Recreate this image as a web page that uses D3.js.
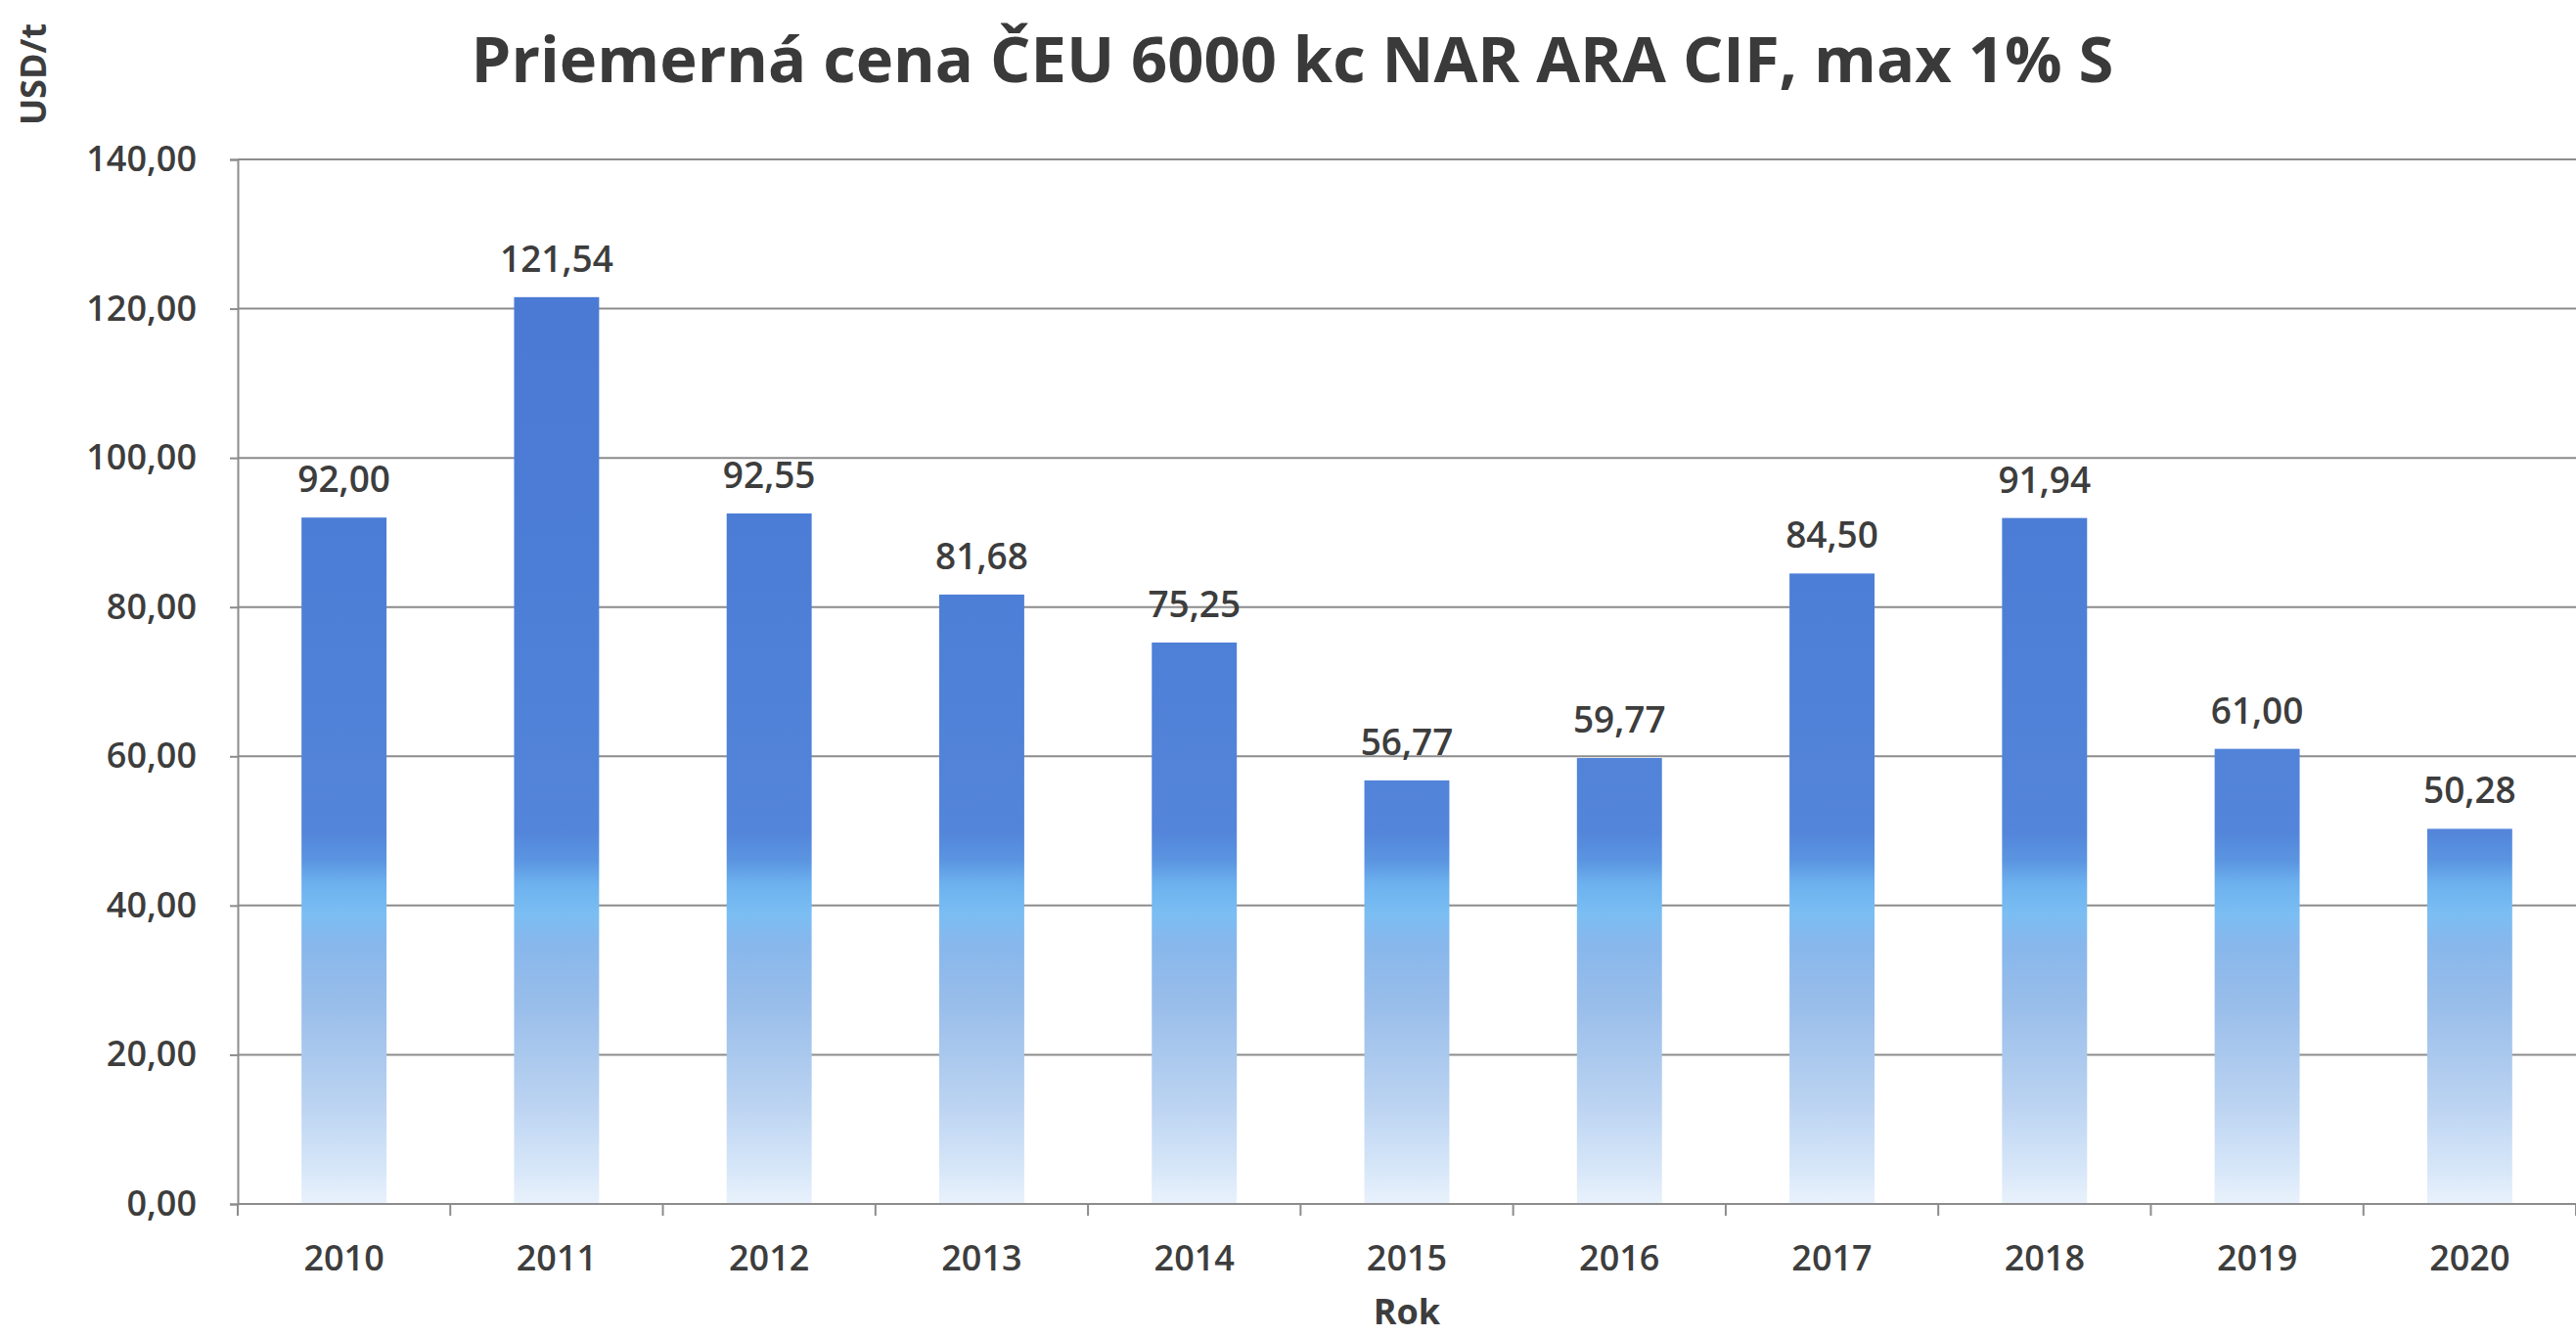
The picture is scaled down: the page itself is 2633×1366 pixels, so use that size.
<!DOCTYPE html>
<html>
<head>
<meta charset="utf-8">
<script src="https://cdn.jsdelivr.net/npm/d3@7"></script>
<style>
  html, body { margin: 0; padding: 0; background: #fff; }
  svg { display: block; }
</style>
</head>
<body>
<svg id="chart" width="2633" height="1366"></svg>
<script>
// ---- data ----
const years = ["2010","2011","2012","2013","2014","2015","2016","2017","2018","2019","2020"];
const prices = [92.00, 121.54, 92.55, 81.68, 75.25, 56.77, 59.77, 84.50, 91.94, 61.00, 50.28];
const yTicks = [0, 20, 40, 60, 80, 100, 120, 140];
const titleText = "Priemerná cena ČEU 6000 kc NAR ARA CIF, max 1% S";
const yAxisTitle = "USD/t";
const xAxisTitle = "Rok";

// ---- layout ----
const W = 2633, H = 1366;
const margin = { left: 243, right: 0, top: 163, bottom: H - 1231 };
const fontFam = "'Open Sans', 'Noto Sans', sans-serif";
const textColor = "#3d3d3d";

const svg = d3.select("#chart");

const x = d3.scaleBand().domain(years).range([margin.left, W - margin.right]).paddingInner(0.6).paddingOuter(0.3);
const y = d3.scaleLinear().domain([0, 140]).range([H - margin.bottom, margin.top]);
const fmt = v => d3.format(".2f")(v).replace(".", ",");

// gradient in user space so every bar shares the same band positions
const defs = svg.append("defs");
const grad = defs.append("linearGradient")
  .attr("id", "barGrad").attr("gradientUnits", "userSpaceOnUse")
  .attr("x1", 0).attr("x2", 0).attr("y1", y(140)).attr("y2", y(0));
const stops = [
  [140, "#4a78d3"], [90, "#4c7dd6"], [50, "#5385da"], [46, "#5b95e1"],
  [43, "#6cb0ee"], [39, "#7abef3"], [35, "#87b7ec"], [27, "#98bdea"],
  [14, "#b9d2f1"], [4, "#d9e8f9"], [0, "#e9f2fc"]
];
stops.forEach(([v, c]) => grad.append("stop").attr("offset", (140 - v) / 140).attr("stop-color", c));

// gridlines
svg.append("g").selectAll("line").data(yTicks.filter(d => d > 0)).join("line")
  .attr("x1", margin.left).attr("x2", W).attr("y1", d => y(d)).attr("y2", d => y(d))
  .attr("stroke", "#8c8c8c").attr("stroke-width", 2);

// bars
svg.append("g").selectAll("rect").data(prices).join("rect")
  .attr("x", (d, i) => x(years[i]))
  .attr("width", x.bandwidth())
  .attr("y", d => y(d))
  .attr("height", d => y(0) - y(d))
  .attr("fill", "url(#barGrad)");

// y axis
const yAxis = svg.append("g").attr("transform", `translate(${margin.left},0)`)
  .call(d3.axisLeft(y).tickValues(yTicks).tickFormat(fmt).tickSize(8).tickPadding(34));
yAxis.select(".domain").attr("stroke", "#8c8c8c").attr("stroke-width", 2);
yAxis.selectAll(".tick line").attr("stroke", "#8c8c8c").attr("stroke-width", 2);
yAxis.selectAll("text").attr("font-family", fontFam).attr("font-size", 36).attr("font-weight", 600).attr("fill", textColor);

// x axis (ticks at category boundaries)
const boundaries = d3.range(years.length + 1).map(i => margin.left + i * x.step());
const xg = svg.append("g");
xg.append("line").attr("x1", margin.left).attr("x2", W).attr("y1", y(0)).attr("y2", y(0))
  .attr("stroke", "#8c8c8c").attr("stroke-width", 2);
xg.selectAll("line.tk").data(boundaries).join("line").attr("class", "tk")
  .attr("x1", d => d).attr("x2", d => d).attr("y1", y(0)).attr("y2", y(0) + 12)
  .attr("stroke", "#8c8c8c").attr("stroke-width", 2);
xg.selectAll("text").data(years).join("text")
  .attr("x", d => x(d) + x.bandwidth() / 2).attr("y", y(0) + 68)
  .attr("text-anchor", "middle")
  .attr("font-family", fontFam).attr("font-size", 36).attr("font-weight", 600).attr("fill", textColor)
  .text(d => d);

// data labels
svg.append("g").selectAll("text").data(prices).join("text")
  .attr("x", (d, i) => x(years[i]) + x.bandwidth() / 2)
  .attr("y", d => y(d) - 26)
  .attr("text-anchor", "middle")
  .attr("font-family", fontFam).attr("font-size", 37).attr("font-weight", 600).attr("fill", textColor)
  .text(d => fmt(d));

// title
const title = svg.append("text")
  .attr("x", 1321).attr("y", 84).attr("text-anchor", "middle")
  .attr("font-family", fontFam).attr("font-size", 64).attr("font-weight", 700).attr("fill", "#3a3a3a")
  .text(titleText);
const tw = title.node().getComputedTextLength();
title.attr("font-size", 64 * 1679 / tw);

// axis titles
svg.append("text")
  .attr("transform", "translate(47,76) rotate(-90)")
  .attr("text-anchor", "middle")
  .attr("font-family", fontFam).attr("font-size", 36).attr("font-weight", 700).attr("fill", textColor)
  .text(yAxisTitle);

svg.append("text")
  .attr("x", (margin.left + W) / 2).attr("y", 1354).attr("text-anchor", "middle")
  .attr("font-family", fontFam).attr("font-size", 36).attr("font-weight", 700).attr("fill", textColor)
  .text(xAxisTitle);
</script>
</body>
</html>
